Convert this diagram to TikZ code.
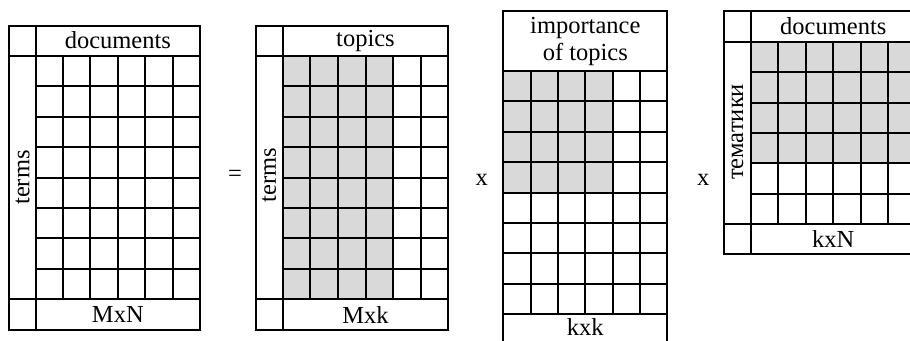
\documentclass[tikz,border=0pt]{standalone}
\usepackage{fontspec}
\setmainfont{Liberation Serif}
\tikzset{
  frame/.style={line width=2pt, line cap=rect},
  shadecell/.style={fill=black!15, draw=none},
  lbl/.style={font=\fontsize{24.5}{27}\selectfont, inner sep=0pt, align=center},
}
\begin{document}
\begin{tikzpicture}[x=1pt,y=-1pt]
\useasboundingbox (0,0) rectangle (910,340);
\clip (0,0) rectangle (910,340);

% ---------- Matrix 1: MxN ----------
\foreach \i in {0,...,6} \draw[frame] ({35.7+\i*27.38},55.7) -- ({35.7+\i*27.38},299.3);
\foreach \j in {0,...,8} \draw[frame] (35.7,{55.7+\j*30.45}) -- (200,{55.7+\j*30.45});
\draw[frame] (9,26) rectangle (200,330);
\draw[frame] (35.7,26) -- (35.7,330);
\draw[frame] (9,55.7) -- (200,55.7);
\draw[frame] (9,299.3) -- (200,299.3);
\node[lbl] (docsA) at (117.85,40.5) {documents};
\node[lbl, rotate=90] (termsA) at (22.5,177.5) {terms};
\node[lbl] (dimA) at (117.85,314.6) {MxN};

\node[lbl] (eq) at (235,176) {=};

% ---------- Matrix 2: Mxk ----------
\fill[shadecell] (282.7,55.7) rectangle ({282.7+4*27.6},299.3);
\foreach \i in {0,...,6} \draw[frame] ({282.7+\i*27.6},55.7) -- ({282.7+\i*27.6},299.3);
\foreach \j in {0,...,8} \draw[frame] (282.7,{55.7+\j*30.45}) -- (448.3,{55.7+\j*30.45});
\draw[frame] (255.7,26) rectangle (448.3,330);
\draw[frame] (282.7,26) -- (282.7,330);
\draw[frame] (255.7,55.7) -- (448.3,55.7);
\draw[frame] (255.7,299.3) -- (448.3,299.3);
\node[lbl] (topicsB) at (365.5,40.5) {topics};
\node[lbl, rotate=90] (termsB) at (269.2,175) {terms};
\node[lbl] (dimB) at (365.5,314.6) {Mxk};

\node[lbl] (mulA) at (481.7,180) {x};

% ---------- Matrix 3: kxk ----------
\fill[shadecell] (503.3,70.7) rectangle ({503.3+4*27.33},{70.7+4*30.45});
\foreach \i in {0,...,6} \draw[frame] ({503.3+\i*27.33},70.7) -- ({503.3+\i*27.33},314.3);
\foreach \j in {0,...,8} \draw[frame] (503.3,{70.7+\j*30.45}) -- (667.3,{70.7+\j*30.45});
\draw[frame] (503.3,10.7) rectangle (667.3,345);
\node[lbl] (impC) at (585.3,41.5) {importance\\of topics};
\node[lbl] (dimC) at (585.3,327.3) {kxk};

\node[lbl] (mulB) at (703.3,180) {x};

% ---------- Matrix 4: kxN ----------
\fill[shadecell] (751,41.7) rectangle ({751+6*27.45},{41.7+4*30.4});
\foreach \i in {0,...,6} \draw[frame] ({751+\i*27.45},41.7) -- ({751+\i*27.45},224);
\foreach \j in {0,...,6} \draw[frame] (751,{41.7+\j*30.4}) -- (915.7,{41.7+\j*30.4});
\draw[frame] (724,10.7) rectangle (915.7,254);
\draw[frame] (751,10.7) -- (751,254);
\draw[frame] (724,41.7) -- (915.7,41.7);
\draw[frame] (724,224) -- (915.7,224);
\node[lbl] (docsD) at (833.3,26.2) {documents};
\node[lbl, rotate=90] (topicsD) at (737.5,132) {тематики};
\node[lbl] (dimD) at (833.3,239) {kxN};
\end{tikzpicture}
\end{document}
